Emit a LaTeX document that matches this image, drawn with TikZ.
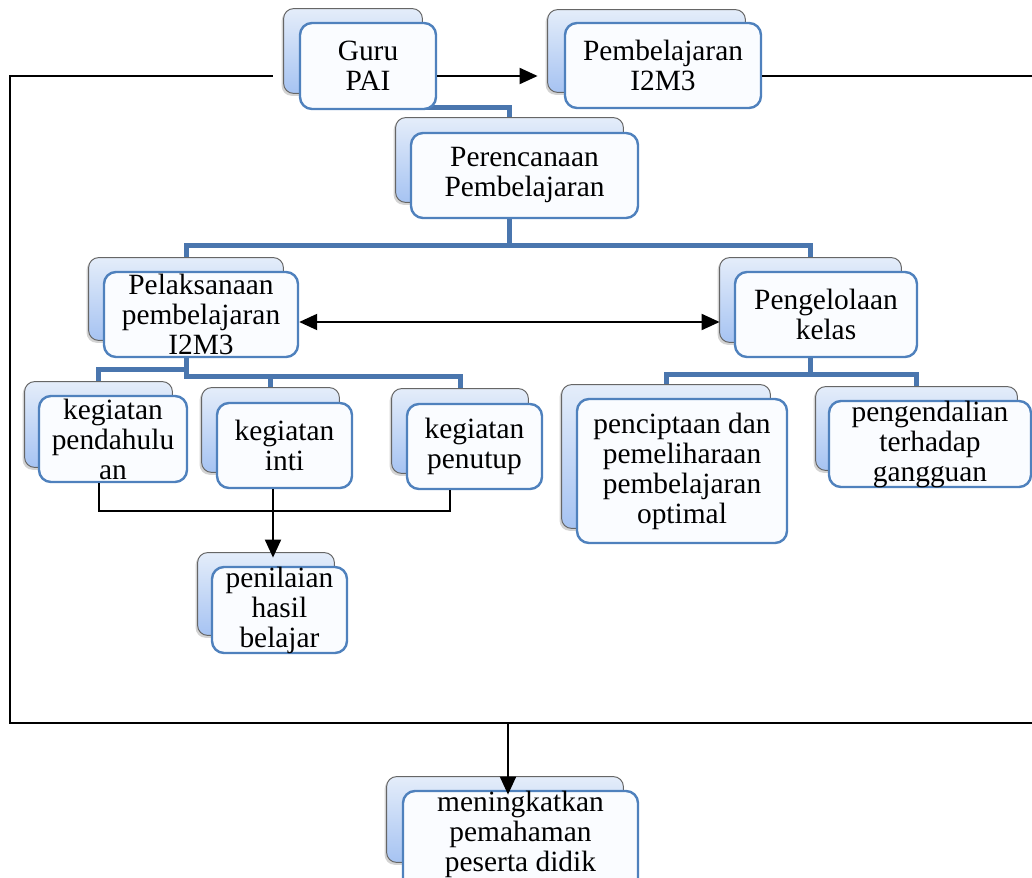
\documentclass[tikz,border=0pt]{standalone}
\usepackage{fontspec}
\setmainfont{Liberation Serif}
\usetikzlibrary{fit,calc,arrows.meta,shadows}
\definecolor{frontblue}{HTML}{4F81BD}
\definecolor{treeblue}{HTML}{4A76AE}
\definecolor{backtop}{HTML}{E4EDFA}
\definecolor{backbot}{HTML}{A6C3F2}
\definecolor{frontfill}{HTML}{FAFCFF}
\begin{document}
\begin{tikzpicture}[x=0.5pt,y=-0.5pt,
 backbox/.style={draw=gray!80!black, line width=0.5pt, rounded corners=5pt, top color=backtop, bottom color=backbot, inner sep=0pt, drop shadow={shadow xshift=-1pt,shadow yshift=-1.2pt,opacity=0.35}},
 frontbox/.style={draw=frontblue, line width=1.2pt, rounded corners=6pt, fill=frontfill, inner sep=0pt},
 lbl/.style={align=center, inner sep=0pt, font=\fontsize{14.7}{15}\selectfont},
 tree/.style={draw=treeblue, line width=2.5pt},
 link/.style={draw=black, line width=1pt},
 arr/.style={link, -{Triangle[length=9pt,width=8pt]}},
 darr/.style={link, {Triangle[length=9pt,width=8pt]}-{Triangle[length=9pt,width=8pt]}}]
\useasboundingbox (0,0) rectangle (1032,877);
\clip (0,0) rectangle (1032,877);
% layout helpers for the back boxes (placed first so tree lines can reference them)
\path
 node[fit={(284,9)(422,93)}, inner sep=0pt] (guruB) {}
 node[fit={(548,10)(745,92)}, inner sep=0pt] (pbB) {}
 node[fit={(396,118)(623,202)}, inner sep=0pt] (perB) {}
 node[fit={(89,258)(283,340)}, inner sep=0pt] (pelB) {}
 node[fit={(720,258)(901,342)}, inner sep=0pt] (pengB) {}
 node[fit={(25,382)(172,467)}, inner sep=0pt] (kpB) {}
 node[fit={(202,388)(339,472)}, inner sep=0pt] (kiB) {}
 node[fit={(392,389)(528,473)}, inner sep=0pt] (ktB) {}
 node[fit={(562,385)(770,528)}, inner sep=0pt] (pcB) {}
 node[fit={(816,387)(1017,470)}, inner sep=0pt] (pgB) {}
 node[fit={(198,553)(334,635)}, inner sep=0pt] (pnB) {}
 node[fit={(387,777)(623,862)}, inner sep=0pt] (mnB) {};
% hierarchy connectors
\draw[tree] (guruB.south) -- ++(0,14) -| (perB.north);
\draw[tree] (perB.south) -- ++(0,43);
\draw[tree] (pelB.north) |- ($(perB.south)+(0,43)$) -| (pengB.north);
\draw[tree] (pelB.south) -- ++(0,36) -| (ktB.north);
\draw[tree] (pelB.south) ++(0,36) -| (kiB.north);
\draw[tree] (pelB.south) ++(0,29) -| (kpB.north);
\draw[tree] (pengB.south) -- ++(0,32) -| (pgB.north);
\draw[tree] (pengB.south) ++(0,32) -| (pcB.north);
% back boxes
\foreach \n in {guruB,pbB,perB,pelB,pengB,kpB,kiB,ktB,pcB,pgB,pnB,mnB}
  \path[backbox] (\n.north west) rectangle (\n.south east);
% front boxes
\node[frontbox, fit={(300,23)(436,109)}] (guruF) {};
\node[frontbox, fit={(565,23)(761,108)}] (pbF) {};
\node[frontbox, fit={(411,133)(638,218)}] (perF) {};
\node[frontbox, fit={(104,272)(298,357)}] (pelF) {};
\node[frontbox, fit={(735,272)(917,357)}] (pengF) {};
\node[frontbox, fit={(39,396)(187,482)}] (kpF) {};
\node[frontbox, fit={(217,403)(352,488)}] (kiF) {};
\node[frontbox, fit={(407,404)(542,489)}] (ktF) {};
\node[frontbox, fit={(577,399)(787,543)}] (pcF) {};
\node[frontbox, fit={(829,401)(1031,487)}] (pgF) {};
\node[frontbox, fit={(212,567)(347,653)}] (pnF) {};
\node[frontbox, fit={(403,791)(638,895)}] (mnF) {};
% texts
\node[lbl] (guruT) at (guruF.center) {Guru\\PAI};
\node[lbl] (pbT) at (pbF.center) {Pembelajaran\\I2M3};
\node[lbl] (perT) at (perF.center) {Perencanaan\\Pembelajaran};
\node[lbl] (pelT) at (pelF.center) {Pelaksanaan\\pembelajaran\\I2M3};
\node[lbl] (pengT) at (pengF.center) {Pengelolaan\\kelas};
\node[lbl] (kpT) at (kpF.center) {kegiatan\\pendahulu\\an};
\node[lbl] (kiT) at (kiF.center) {kegiatan\\inti};
\node[lbl] (ktT) at (ktF.center) {kegiatan\\penutup};
\node[lbl] (pcT) at (pcF.center) {penciptaan dan\\pemeliharaan\\pembelajaran\\optimal};
\node[lbl] (pgT) at (pgF.center) {pengendalian\\terhadap\\gangguan};
\node[lbl] (pnT) at (pnF.center) {penilaian\\hasil\\belajar};
\node[lbl] (mnT) at ($(mnF.north)+(0,45)$) {meningkatkan\\pemahaman\\peserta didik};
% black connectors
\coordinate (tl) at (10,76);
\coordinate (bl) at (10,723);
\coordinate (br) at (1032,723);
\coordinate (tr) at (1032,76);
\coordinate (ay) at (0,322);
\coordinate (kix) at (273,0);
\draw[link] ($(guruB.west |- tl)+(-11,0)$) -- (tl) -- (bl) -- (br);
\draw[link] (pbF.east |- tr) -- (tr);
\draw[arr] (guruF.east |- tl) -- ($(pbB.west |- tl)+(-10,0)$);
\draw[darr] (pelF.east |- ay) -- (pengB.west |- ay);
\draw[link] (kpB.south |- kpF.south) -- ++(0,28) -| ($(ktF.south)+(-25,0)$);
\draw[arr] (kix |- kiF.south) -- ($(kix |- pnB.north)+(0,5)$);
\draw[arr] ($(mnB.north |- br)+(3,0)$) -- ($(mnB.north)+(3,18)$);
\end{tikzpicture}
\end{document}
